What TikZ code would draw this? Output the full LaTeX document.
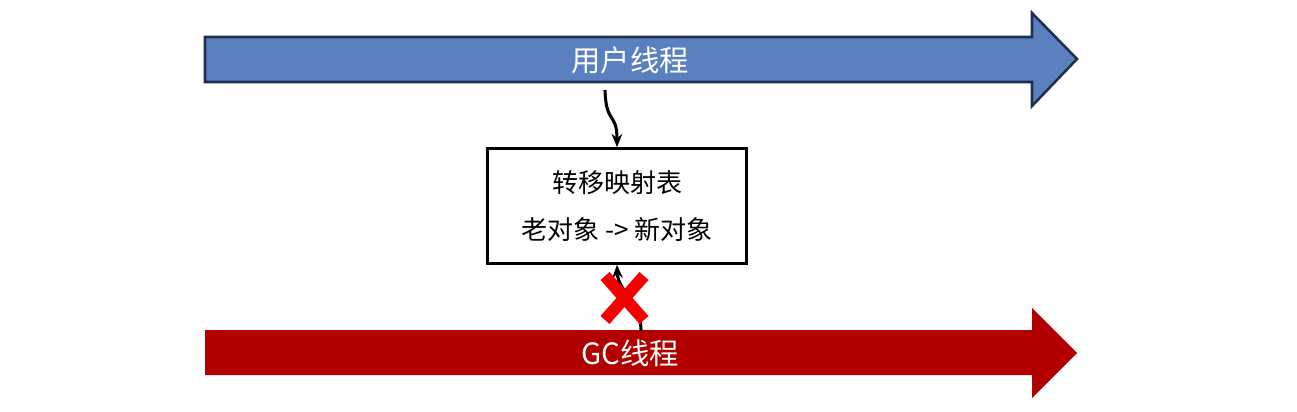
\documentclass[tikz,border=0pt]{standalone}
\usepackage{fontspec}
\newfontfamily\cjk{Noto Sans CJK SC}
\usetikzlibrary{positioning, arrows.meta, calc}
\definecolor{threadblue}{HTML}{5A80BF}
\definecolor{threadedge}{HTML}{1F2F4E}
\definecolor{gcred}{HTML}{B20000}
\definecolor{crossred}{HTML}{F50000}

\begin{document}
\begin{tikzpicture}[x=0.75pt, y=-0.75pt,
  threadarrow/.style={line width=1.9pt, line join=miter},
  threadlabel/.style={text=white, font=\cjk\fontsize{22}{26}\selectfont},
  link/.style={line width=2.3pt, -{Stealth[length=10pt, width=8pt]}}]
  \useasboundingbox (0,0) rectangle (1297,411);
  % user thread
  \filldraw[threadarrow, fill=threadblue, draw=threadedge]
    (205,37) -- (1032,37) -- (1032,13) -- (1077,59) -- (1032,106) -- (1032,82) -- (205,82) -- cycle;
  \node[threadlabel] (user) at (630,60) {用户线程};
  % gc thread
  \fill[gcred] (205,330) -- (1032,330) -- (1032,308) -- (1077,353) -- (1032,398) -- (1032,375) -- (205,375) -- cycle;
  \node[threadlabel] (gc) at (630,353) {GC线程};
  \coordinate (userout) at (605,90);
  \coordinate (gcout) at (641,331);
  % mapping table
  \node[draw, line width=2.2pt, minimum width=194pt, minimum height=86pt, align=center,
        font=\cjk\fontsize{19.5}{35}\selectfont] (table) at (617,206) {转移映射表\\老对象\ -{}>\ 新对象};
  \draw[link] (userout) .. controls (606,125) and (617,112) .. (table.north);
  \draw[link] (gcout) .. controls (641,300) and (618,292) .. (table.south);
  % blocked
  \draw[crossred, line width=9pt] (605,276) -- (644,320) (644,276) -- (605,320);
\end{tikzpicture}
\end{document}
